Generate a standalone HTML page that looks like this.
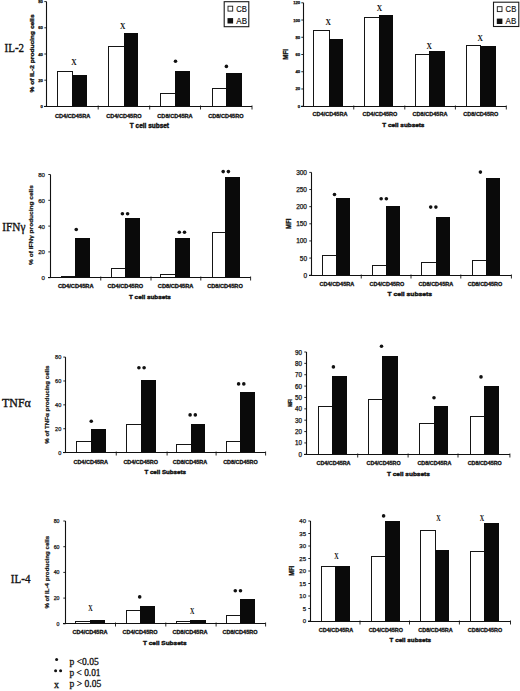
<!DOCTYPE html>
<html><head><meta charset="utf-8"><title>Cytokine production by T cell subsets</title>
<style>
html,body{margin:0;padding:0;background:#fff;}
body{width:520px;height:691px;overflow:hidden;font-family:"Liberation Sans", sans-serif;}
svg{display:block;}
</style></head>
<body>
<svg width="520" height="691" viewBox="0 0 520 691">
<rect x="0" y="0" width="520" height="691" fill="#fff"/>
<rect x="57.5" y="71.5" width="15.0" height="35.0" fill="#fff" stroke="#151515" stroke-width="1"/>
<rect x="72.00" y="75.00" width="15.00" height="31.50" fill="#0a0a0a"/>
<rect x="108.5" y="46.5" width="16.0" height="60.0" fill="#fff" stroke="#151515" stroke-width="1"/>
<rect x="124.00" y="33.00" width="14.00" height="73.50" fill="#0a0a0a"/>
<rect x="160.5" y="93.5" width="15.0" height="13.0" fill="#fff" stroke="#151515" stroke-width="1"/>
<rect x="175.00" y="71.00" width="15.00" height="35.50" fill="#0a0a0a"/>
<rect x="212.5" y="88.5" width="14.0" height="18.0" fill="#fff" stroke="#151515" stroke-width="1"/>
<rect x="226.00" y="73.00" width="16.00" height="33.50" fill="#0a0a0a"/>
<line x1="46.50" y1="1.60" x2="46.50" y2="107.00" stroke="#111" stroke-width="1.1"/>
<line x1="44.00" y1="106.50" x2="252.00" y2="106.50" stroke="#111" stroke-width="1.1"/>
<line x1="44.30" y1="106.40" x2="46.50" y2="106.40" stroke="#111" stroke-width="0.9"/>
<text x="42.90" y="106.40" font-family='"Liberation Sans", sans-serif' font-size="4.2" font-weight="bold" text-anchor="end" dominant-baseline="central" fill="#111" stroke="#111" stroke-width="0.25">0</text>
<line x1="44.30" y1="80.20" x2="46.50" y2="80.20" stroke="#111" stroke-width="0.9"/>
<text x="42.90" y="80.20" font-family='"Liberation Sans", sans-serif' font-size="4.2" font-weight="bold" text-anchor="end" dominant-baseline="central" fill="#111" stroke="#111" stroke-width="0.25">20</text>
<line x1="44.30" y1="54.00" x2="46.50" y2="54.00" stroke="#111" stroke-width="0.9"/>
<text x="42.90" y="54.00" font-family='"Liberation Sans", sans-serif' font-size="4.2" font-weight="bold" text-anchor="end" dominant-baseline="central" fill="#111" stroke="#111" stroke-width="0.25">40</text>
<line x1="44.30" y1="27.80" x2="46.50" y2="27.80" stroke="#111" stroke-width="0.9"/>
<text x="42.90" y="27.80" font-family='"Liberation Sans", sans-serif' font-size="4.2" font-weight="bold" text-anchor="end" dominant-baseline="central" fill="#111" stroke="#111" stroke-width="0.25">60</text>
<line x1="44.30" y1="1.60" x2="46.50" y2="1.60" stroke="#111" stroke-width="0.9"/>
<text x="42.90" y="1.60" font-family='"Liberation Sans", sans-serif' font-size="4.2" font-weight="bold" text-anchor="end" dominant-baseline="central" fill="#111" stroke="#111" stroke-width="0.25">80</text>
<line x1="98.20" y1="105.50" x2="98.20" y2="109.50" stroke="#111" stroke-width="0.9"/>
<line x1="149.70" y1="105.50" x2="149.70" y2="109.50" stroke="#111" stroke-width="0.9"/>
<line x1="200.50" y1="105.50" x2="200.50" y2="109.50" stroke="#111" stroke-width="0.9"/>
<line x1="252.00" y1="105.50" x2="252.00" y2="109.50" stroke="#111" stroke-width="0.9"/>
<text x="72.60" y="115.80" font-family='"Liberation Sans", sans-serif' font-size="5.5" font-weight="bold" text-anchor="middle" dominant-baseline="central" fill="#111" textLength="35.40" lengthAdjust="spacingAndGlyphs" stroke="#111" stroke-width="0.3">CD4/CD45RA</text>
<text x="123.90" y="115.80" font-family='"Liberation Sans", sans-serif' font-size="5.5" font-weight="bold" text-anchor="middle" dominant-baseline="central" fill="#111" textLength="35.40" lengthAdjust="spacingAndGlyphs" stroke="#111" stroke-width="0.3">CD4/CD45RO</text>
<text x="175.00" y="115.80" font-family='"Liberation Sans", sans-serif' font-size="5.5" font-weight="bold" text-anchor="middle" dominant-baseline="central" fill="#111" textLength="35.40" lengthAdjust="spacingAndGlyphs" stroke="#111" stroke-width="0.3">CD8/CD45RA</text>
<text x="225.90" y="115.80" font-family='"Liberation Sans", sans-serif' font-size="5.5" font-weight="bold" text-anchor="middle" dominant-baseline="central" fill="#111" textLength="35.40" lengthAdjust="spacingAndGlyphs" stroke="#111" stroke-width="0.3">CD8/CD45RO</text>
<text x="74.00" y="62.30" font-family='"Liberation Serif", serif' font-size="9" font-weight="bold" text-anchor="middle" dominant-baseline="central" fill="#111" textLength="5.40" lengthAdjust="spacingAndGlyphs">X</text>
<text x="122.70" y="26.00" font-family='"Liberation Serif", serif' font-size="9" font-weight="bold" text-anchor="middle" dominant-baseline="central" fill="#111" textLength="5.40" lengthAdjust="spacingAndGlyphs">X</text>
<circle cx="175.50" cy="61.30" r="1.8" fill="#111"/>
<circle cx="226.40" cy="66.40" r="1.8" fill="#111"/>
<text x="149.40" y="125.80" font-family='"Liberation Sans", sans-serif' font-size="6.5" font-weight="bold" text-anchor="middle" dominant-baseline="central" fill="#111" textLength="39.20" lengthAdjust="spacingAndGlyphs" stroke="#111" stroke-width="0.4">T cell subset</text>
<text x="31.60" y="53.45" font-family='"Liberation Sans", sans-serif' font-size="5.2" font-weight="bold" text-anchor="middle" dominant-baseline="central" fill="#111" textLength="78.10" lengthAdjust="spacingAndGlyphs" transform="rotate(-90 31.60 53.45)" stroke="#111" stroke-width="0.3">% of IL-2 producing cells</text>
<rect x="224.20" y="1.70" width="24.60" height="25.00" fill="#fff" stroke="#1a1a1a" stroke-width="1.1"/>
<rect x="228.00" y="6.20" width="4.70" height="4.90" fill="#fff" stroke="#1a1a1a" stroke-width="0.9"/>
<rect x="227.50" y="18.10" width="5.60" height="5.40" fill="#111"/>
<text x="236.30" y="9.10" font-family='"Liberation Sans", sans-serif' font-size="8.2" font-weight="normal" text-anchor="start" dominant-baseline="central" fill="#111" textLength="10.70" lengthAdjust="spacingAndGlyphs" stroke="#111" stroke-width="0.15">CB</text>
<text x="236.30" y="21.20" font-family='"Liberation Sans", sans-serif' font-size="8.2" font-weight="normal" text-anchor="start" dominant-baseline="central" fill="#111" textLength="10.70" lengthAdjust="spacingAndGlyphs" stroke="#111" stroke-width="0.15">AB</text>
<rect x="313.5" y="30.5" width="16.0" height="76.0" fill="#fff" stroke="#151515" stroke-width="1"/>
<rect x="329.00" y="39.00" width="14.00" height="67.50" fill="#0a0a0a"/>
<rect x="364.5" y="17.5" width="15.0" height="89.0" fill="#fff" stroke="#151515" stroke-width="1"/>
<rect x="379.00" y="15.00" width="14.00" height="91.50" fill="#0a0a0a"/>
<rect x="415.5" y="54.5" width="14.0" height="52.0" fill="#fff" stroke="#151515" stroke-width="1"/>
<rect x="429.00" y="51.00" width="16.00" height="55.50" fill="#0a0a0a"/>
<rect x="466.5" y="45.5" width="14.0" height="61.0" fill="#fff" stroke="#151515" stroke-width="1"/>
<rect x="480.00" y="46.00" width="16.00" height="60.50" fill="#0a0a0a"/>
<line x1="303.50" y1="2.80" x2="303.50" y2="107.00" stroke="#111" stroke-width="1.1"/>
<line x1="301.00" y1="106.50" x2="506.30" y2="106.50" stroke="#111" stroke-width="1.1"/>
<line x1="301.30" y1="106.20" x2="303.50" y2="106.20" stroke="#111" stroke-width="0.9"/>
<text x="300.20" y="106.20" font-family='"Liberation Sans", sans-serif' font-size="4.2" font-weight="bold" text-anchor="end" dominant-baseline="central" fill="#111" stroke="#111" stroke-width="0.25">0</text>
<line x1="301.30" y1="88.97" x2="303.50" y2="88.97" stroke="#111" stroke-width="0.9"/>
<text x="300.20" y="88.97" font-family='"Liberation Sans", sans-serif' font-size="4.2" font-weight="bold" text-anchor="end" dominant-baseline="central" fill="#111" stroke="#111" stroke-width="0.25">20</text>
<line x1="301.30" y1="71.73" x2="303.50" y2="71.73" stroke="#111" stroke-width="0.9"/>
<text x="300.20" y="71.73" font-family='"Liberation Sans", sans-serif' font-size="4.2" font-weight="bold" text-anchor="end" dominant-baseline="central" fill="#111" stroke="#111" stroke-width="0.25">40</text>
<line x1="301.30" y1="54.50" x2="303.50" y2="54.50" stroke="#111" stroke-width="0.9"/>
<text x="300.20" y="54.50" font-family='"Liberation Sans", sans-serif' font-size="4.2" font-weight="bold" text-anchor="end" dominant-baseline="central" fill="#111" stroke="#111" stroke-width="0.25">60</text>
<line x1="301.30" y1="37.27" x2="303.50" y2="37.27" stroke="#111" stroke-width="0.9"/>
<text x="300.20" y="37.27" font-family='"Liberation Sans", sans-serif' font-size="4.2" font-weight="bold" text-anchor="end" dominant-baseline="central" fill="#111" stroke="#111" stroke-width="0.25">80</text>
<line x1="301.30" y1="20.03" x2="303.50" y2="20.03" stroke="#111" stroke-width="0.9"/>
<text x="300.20" y="20.03" font-family='"Liberation Sans", sans-serif' font-size="4.2" font-weight="bold" text-anchor="end" dominant-baseline="central" fill="#111" stroke="#111" stroke-width="0.25">100</text>
<line x1="301.30" y1="2.80" x2="303.50" y2="2.80" stroke="#111" stroke-width="0.9"/>
<text x="300.20" y="2.80" font-family='"Liberation Sans", sans-serif' font-size="4.2" font-weight="bold" text-anchor="end" dominant-baseline="central" fill="#111" stroke="#111" stroke-width="0.25">120</text>
<line x1="353.75" y1="105.50" x2="353.75" y2="109.50" stroke="#111" stroke-width="0.9"/>
<line x1="404.80" y1="105.50" x2="404.80" y2="109.50" stroke="#111" stroke-width="0.9"/>
<line x1="455.40" y1="105.50" x2="455.40" y2="109.50" stroke="#111" stroke-width="0.9"/>
<line x1="506.30" y1="105.50" x2="506.30" y2="109.50" stroke="#111" stroke-width="0.9"/>
<text x="330.00" y="114.20" font-family='"Liberation Sans", sans-serif' font-size="5.5" font-weight="bold" text-anchor="middle" dominant-baseline="central" fill="#111" textLength="35.00" lengthAdjust="spacingAndGlyphs" stroke="#111" stroke-width="0.3">CD4/CD45RA</text>
<text x="379.90" y="114.20" font-family='"Liberation Sans", sans-serif' font-size="5.5" font-weight="bold" text-anchor="middle" dominant-baseline="central" fill="#111" textLength="35.00" lengthAdjust="spacingAndGlyphs" stroke="#111" stroke-width="0.3">CD4/CD45RO</text>
<text x="430.00" y="114.20" font-family='"Liberation Sans", sans-serif' font-size="5.5" font-weight="bold" text-anchor="middle" dominant-baseline="central" fill="#111" textLength="35.00" lengthAdjust="spacingAndGlyphs" stroke="#111" stroke-width="0.3">CD8/CD45RA</text>
<text x="480.80" y="114.20" font-family='"Liberation Sans", sans-serif' font-size="5.5" font-weight="bold" text-anchor="middle" dominant-baseline="central" fill="#111" textLength="35.00" lengthAdjust="spacingAndGlyphs" stroke="#111" stroke-width="0.3">CD8/CD45RO</text>
<text x="328.30" y="22.30" font-family='"Liberation Serif", serif' font-size="9" font-weight="bold" text-anchor="middle" dominant-baseline="central" fill="#111" textLength="5.40" lengthAdjust="spacingAndGlyphs">X</text>
<text x="379.50" y="7.80" font-family='"Liberation Serif", serif' font-size="9" font-weight="bold" text-anchor="middle" dominant-baseline="central" fill="#111" textLength="5.40" lengthAdjust="spacingAndGlyphs">X</text>
<text x="429.30" y="46.10" font-family='"Liberation Serif", serif' font-size="9" font-weight="bold" text-anchor="middle" dominant-baseline="central" fill="#111" textLength="5.40" lengthAdjust="spacingAndGlyphs">X</text>
<text x="480.20" y="38.00" font-family='"Liberation Serif", serif' font-size="9" font-weight="bold" text-anchor="middle" dominant-baseline="central" fill="#111" textLength="5.40" lengthAdjust="spacingAndGlyphs">X</text>
<text x="403.35" y="125.00" font-family='"Liberation Sans", sans-serif' font-size="6.0" font-weight="bold" text-anchor="middle" dominant-baseline="central" fill="#111" textLength="42.10" lengthAdjust="spacingAndGlyphs" stroke="#111" stroke-width="0.4">T cell subsets</text>
<text x="286.00" y="54.30" font-family='"Liberation Sans", sans-serif' font-size="7.5" font-weight="bold" text-anchor="middle" dominant-baseline="central" fill="#111" textLength="10.80" lengthAdjust="spacingAndGlyphs" transform="rotate(-90 286.00 54.30)" stroke="#111" stroke-width="0.35">MFI</text>
<rect x="493.50" y="2.20" width="25.30" height="24.30" fill="#fff" stroke="#1a1a1a" stroke-width="1.1"/>
<rect x="497.30" y="6.70" width="4.70" height="4.90" fill="#fff" stroke="#1a1a1a" stroke-width="0.9"/>
<rect x="496.80" y="18.60" width="5.60" height="5.40" fill="#111"/>
<text x="505.60" y="9.60" font-family='"Liberation Sans", sans-serif' font-size="8.2" font-weight="normal" text-anchor="start" dominant-baseline="central" fill="#111" textLength="10.70" lengthAdjust="spacingAndGlyphs" stroke="#111" stroke-width="0.15">CB</text>
<text x="505.60" y="21.70" font-family='"Liberation Sans", sans-serif' font-size="8.2" font-weight="normal" text-anchor="start" dominant-baseline="central" fill="#111" textLength="10.70" lengthAdjust="spacingAndGlyphs" stroke="#111" stroke-width="0.15">AB</text>
<rect x="61.5" y="276.5" width="14.0" height="1.0" fill="#fff" stroke="#151515" stroke-width="1"/>
<rect x="75.00" y="238.00" width="15.00" height="39.50" fill="#0a0a0a"/>
<rect x="111.5" y="268.5" width="14.0" height="9.0" fill="#fff" stroke="#151515" stroke-width="1"/>
<rect x="125.00" y="218.00" width="15.00" height="59.50" fill="#0a0a0a"/>
<rect x="160.5" y="274.5" width="15.0" height="3.0" fill="#fff" stroke="#151515" stroke-width="1"/>
<rect x="175.00" y="238.00" width="15.00" height="39.50" fill="#0a0a0a"/>
<rect x="212.5" y="232.5" width="13.0" height="45.0" fill="#fff" stroke="#151515" stroke-width="1"/>
<rect x="225.00" y="177.00" width="15.00" height="100.50" fill="#0a0a0a"/>
<line x1="50.50" y1="174.50" x2="50.50" y2="278.00" stroke="#111" stroke-width="1.1"/>
<line x1="48.00" y1="277.50" x2="250.60" y2="277.50" stroke="#111" stroke-width="1.1"/>
<line x1="48.30" y1="277.70" x2="50.50" y2="277.70" stroke="#111" stroke-width="0.9"/>
<text x="45.00" y="277.70" font-family='"Liberation Sans", sans-serif' font-size="6.1" font-weight="normal" text-anchor="end" dominant-baseline="central" fill="#111" stroke="#111" stroke-width="0.25">0</text>
<line x1="48.30" y1="251.90" x2="50.50" y2="251.90" stroke="#111" stroke-width="0.9"/>
<text x="45.00" y="251.90" font-family='"Liberation Sans", sans-serif' font-size="6.1" font-weight="normal" text-anchor="end" dominant-baseline="central" fill="#111" stroke="#111" stroke-width="0.25">20</text>
<line x1="48.30" y1="226.10" x2="50.50" y2="226.10" stroke="#111" stroke-width="0.9"/>
<text x="45.00" y="226.10" font-family='"Liberation Sans", sans-serif' font-size="6.1" font-weight="normal" text-anchor="end" dominant-baseline="central" fill="#111" stroke="#111" stroke-width="0.25">40</text>
<line x1="48.30" y1="200.30" x2="50.50" y2="200.30" stroke="#111" stroke-width="0.9"/>
<text x="45.00" y="200.30" font-family='"Liberation Sans", sans-serif' font-size="6.1" font-weight="normal" text-anchor="end" dominant-baseline="central" fill="#111" stroke="#111" stroke-width="0.25">60</text>
<line x1="48.30" y1="174.50" x2="50.50" y2="174.50" stroke="#111" stroke-width="0.9"/>
<text x="45.00" y="174.50" font-family='"Liberation Sans", sans-serif' font-size="6.1" font-weight="normal" text-anchor="end" dominant-baseline="central" fill="#111" stroke="#111" stroke-width="0.25">80</text>
<line x1="100.75" y1="276.50" x2="100.75" y2="280.50" stroke="#111" stroke-width="0.9"/>
<line x1="151.00" y1="276.50" x2="151.00" y2="280.50" stroke="#111" stroke-width="0.9"/>
<line x1="200.80" y1="276.50" x2="200.80" y2="280.50" stroke="#111" stroke-width="0.9"/>
<line x1="250.60" y1="276.50" x2="250.60" y2="280.50" stroke="#111" stroke-width="0.9"/>
<text x="75.70" y="286.20" font-family='"Liberation Sans", sans-serif' font-size="5.2" font-weight="bold" text-anchor="middle" dominant-baseline="central" fill="#111" textLength="35.60" lengthAdjust="spacingAndGlyphs" stroke="#111" stroke-width="0.3">CD4/CD45RA</text>
<text x="125.30" y="286.20" font-family='"Liberation Sans", sans-serif' font-size="5.2" font-weight="bold" text-anchor="middle" dominant-baseline="central" fill="#111" textLength="35.60" lengthAdjust="spacingAndGlyphs" stroke="#111" stroke-width="0.3">CD4/CD45RO</text>
<text x="175.60" y="286.20" font-family='"Liberation Sans", sans-serif' font-size="5.2" font-weight="bold" text-anchor="middle" dominant-baseline="central" fill="#111" textLength="35.60" lengthAdjust="spacingAndGlyphs" stroke="#111" stroke-width="0.3">CD8/CD45RA</text>
<text x="225.00" y="286.20" font-family='"Liberation Sans", sans-serif' font-size="5.2" font-weight="bold" text-anchor="middle" dominant-baseline="central" fill="#111" textLength="35.60" lengthAdjust="spacingAndGlyphs" stroke="#111" stroke-width="0.3">CD8/CD45RO</text>
<circle cx="76.25" cy="229.50" r="1.8" fill="#111"/>
<circle cx="122.40" cy="213.75" r="1.8" fill="#111"/>
<circle cx="127.60" cy="213.75" r="1.8" fill="#111"/>
<circle cx="179.30" cy="232.20" r="1.8" fill="#111"/>
<circle cx="184.50" cy="232.20" r="1.8" fill="#111"/>
<circle cx="223.20" cy="171.60" r="1.8" fill="#111"/>
<circle cx="228.40" cy="171.60" r="1.8" fill="#111"/>
<text x="149.90" y="296.80" font-family='"Liberation Sans", sans-serif' font-size="6.0" font-weight="bold" text-anchor="middle" dominant-baseline="central" fill="#111" textLength="41.80" lengthAdjust="spacingAndGlyphs" stroke="#111" stroke-width="0.4">T cell subsets</text>
<text x="31.20" y="225.05" font-family='"Liberation Sans", sans-serif' font-size="5.0" font-weight="bold" text-anchor="middle" dominant-baseline="central" fill="#111" textLength="79.70" lengthAdjust="spacingAndGlyphs" transform="rotate(-90 31.20 225.05)" stroke="#111" stroke-width="0.2">% of IFN&#947; producing cells</text>
<rect x="322.5" y="255.5" width="14.0" height="20.0" fill="#fff" stroke="#151515" stroke-width="1"/>
<rect x="336.00" y="198.00" width="14.00" height="77.50" fill="#0a0a0a"/>
<rect x="372.5" y="265.5" width="14.0" height="10.0" fill="#fff" stroke="#151515" stroke-width="1"/>
<rect x="386.00" y="206.00" width="14.00" height="69.50" fill="#0a0a0a"/>
<rect x="421.5" y="262.5" width="15.0" height="13.0" fill="#fff" stroke="#151515" stroke-width="1"/>
<rect x="436.00" y="217.00" width="14.00" height="58.50" fill="#0a0a0a"/>
<rect x="472.5" y="260.5" width="14.0" height="15.0" fill="#fff" stroke="#151515" stroke-width="1"/>
<rect x="486.00" y="178.00" width="14.00" height="97.50" fill="#0a0a0a"/>
<line x1="311.50" y1="172.40" x2="311.50" y2="276.00" stroke="#111" stroke-width="1.1"/>
<line x1="309.00" y1="275.50" x2="511.40" y2="275.50" stroke="#111" stroke-width="1.1"/>
<line x1="309.30" y1="275.20" x2="311.50" y2="275.20" stroke="#111" stroke-width="0.9"/>
<text x="307.00" y="275.20" font-family='"Liberation Sans", sans-serif' font-size="6.5" font-weight="normal" text-anchor="end" dominant-baseline="central" fill="#111" stroke="#111" stroke-width="0.25">0</text>
<line x1="309.30" y1="258.07" x2="311.50" y2="258.07" stroke="#111" stroke-width="0.9"/>
<text x="307.00" y="258.07" font-family='"Liberation Sans", sans-serif' font-size="6.5" font-weight="normal" text-anchor="end" dominant-baseline="central" fill="#111" stroke="#111" stroke-width="0.25">50</text>
<line x1="309.30" y1="240.93" x2="311.50" y2="240.93" stroke="#111" stroke-width="0.9"/>
<text x="307.00" y="240.93" font-family='"Liberation Sans", sans-serif' font-size="6.5" font-weight="normal" text-anchor="end" dominant-baseline="central" fill="#111" stroke="#111" stroke-width="0.25">100</text>
<line x1="309.30" y1="223.80" x2="311.50" y2="223.80" stroke="#111" stroke-width="0.9"/>
<text x="307.00" y="223.80" font-family='"Liberation Sans", sans-serif' font-size="6.5" font-weight="normal" text-anchor="end" dominant-baseline="central" fill="#111" stroke="#111" stroke-width="0.25">150</text>
<line x1="309.30" y1="206.67" x2="311.50" y2="206.67" stroke="#111" stroke-width="0.9"/>
<text x="307.00" y="206.67" font-family='"Liberation Sans", sans-serif' font-size="6.5" font-weight="normal" text-anchor="end" dominant-baseline="central" fill="#111" stroke="#111" stroke-width="0.25">200</text>
<line x1="309.30" y1="189.53" x2="311.50" y2="189.53" stroke="#111" stroke-width="0.9"/>
<text x="307.00" y="189.53" font-family='"Liberation Sans", sans-serif' font-size="6.5" font-weight="normal" text-anchor="end" dominant-baseline="central" fill="#111" stroke="#111" stroke-width="0.25">250</text>
<line x1="309.30" y1="172.40" x2="311.50" y2="172.40" stroke="#111" stroke-width="0.9"/>
<text x="307.00" y="172.40" font-family='"Liberation Sans", sans-serif' font-size="6.5" font-weight="normal" text-anchor="end" dominant-baseline="central" fill="#111" stroke="#111" stroke-width="0.25">300</text>
<line x1="361.25" y1="274.50" x2="361.25" y2="278.50" stroke="#111" stroke-width="0.9"/>
<line x1="411.00" y1="274.50" x2="411.00" y2="278.50" stroke="#111" stroke-width="0.9"/>
<line x1="460.80" y1="274.50" x2="460.80" y2="278.50" stroke="#111" stroke-width="0.9"/>
<line x1="511.40" y1="274.50" x2="511.40" y2="278.50" stroke="#111" stroke-width="0.9"/>
<text x="336.90" y="284.40" font-family='"Liberation Sans", sans-serif' font-size="5.2" font-weight="bold" text-anchor="middle" dominant-baseline="central" fill="#111" textLength="34.60" lengthAdjust="spacingAndGlyphs" stroke="#111" stroke-width="0.3">CD4/CD45RA</text>
<text x="386.90" y="284.40" font-family='"Liberation Sans", sans-serif' font-size="5.2" font-weight="bold" text-anchor="middle" dominant-baseline="central" fill="#111" textLength="34.60" lengthAdjust="spacingAndGlyphs" stroke="#111" stroke-width="0.3">CD4/CD45RO</text>
<text x="435.90" y="284.40" font-family='"Liberation Sans", sans-serif' font-size="5.2" font-weight="bold" text-anchor="middle" dominant-baseline="central" fill="#111" textLength="34.60" lengthAdjust="spacingAndGlyphs" stroke="#111" stroke-width="0.3">CD8/CD45RA</text>
<text x="485.00" y="284.40" font-family='"Liberation Sans", sans-serif' font-size="5.2" font-weight="bold" text-anchor="middle" dominant-baseline="central" fill="#111" textLength="34.60" lengthAdjust="spacingAndGlyphs" stroke="#111" stroke-width="0.3">CD8/CD45RO</text>
<circle cx="334.50" cy="194.50" r="1.8" fill="#111"/>
<circle cx="381.15" cy="198.75" r="1.8" fill="#111"/>
<circle cx="386.35" cy="198.75" r="1.8" fill="#111"/>
<circle cx="430.70" cy="207.10" r="1.8" fill="#111"/>
<circle cx="435.90" cy="207.10" r="1.8" fill="#111"/>
<circle cx="480.40" cy="172.10" r="1.8" fill="#111"/>
<text x="409.75" y="294.00" font-family='"Liberation Sans", sans-serif' font-size="6.0" font-weight="bold" text-anchor="middle" dominant-baseline="central" fill="#111" textLength="44.50" lengthAdjust="spacingAndGlyphs" stroke="#111" stroke-width="0.4">T cell subsets</text>
<text x="288.60" y="223.80" font-family='"Liberation Sans", sans-serif' font-size="6.8" font-weight="bold" text-anchor="middle" dominant-baseline="central" fill="#111" textLength="10.20" lengthAdjust="spacingAndGlyphs" transform="rotate(-90 288.60 223.80)" stroke="#111" stroke-width="0.35">MFI</text>
<rect x="76.5" y="441.5" width="15.0" height="11.0" fill="#fff" stroke="#151515" stroke-width="1"/>
<rect x="91.00" y="429.00" width="15.00" height="23.50" fill="#0a0a0a"/>
<rect x="126.5" y="424.5" width="15.0" height="28.0" fill="#fff" stroke="#151515" stroke-width="1"/>
<rect x="141.00" y="380.00" width="15.00" height="72.50" fill="#0a0a0a"/>
<rect x="176.5" y="444.5" width="15.0" height="8.0" fill="#fff" stroke="#151515" stroke-width="1"/>
<rect x="191.00" y="424.00" width="14.00" height="28.50" fill="#0a0a0a"/>
<rect x="226.5" y="441.5" width="14.0" height="11.0" fill="#fff" stroke="#151515" stroke-width="1"/>
<rect x="240.00" y="392.00" width="15.00" height="60.50" fill="#0a0a0a"/>
<line x1="65.50" y1="357.10" x2="65.50" y2="453.00" stroke="#111" stroke-width="1.1"/>
<line x1="63.00" y1="452.50" x2="265.60" y2="452.50" stroke="#111" stroke-width="1.1"/>
<line x1="63.30" y1="452.60" x2="65.50" y2="452.60" stroke="#111" stroke-width="0.9"/>
<text x="61.30" y="452.60" font-family='"Liberation Sans", sans-serif' font-size="5.6" font-weight="normal" text-anchor="end" dominant-baseline="central" fill="#111" stroke="#111" stroke-width="0.25">0</text>
<line x1="63.30" y1="428.73" x2="65.50" y2="428.73" stroke="#111" stroke-width="0.9"/>
<text x="61.30" y="428.73" font-family='"Liberation Sans", sans-serif' font-size="5.6" font-weight="normal" text-anchor="end" dominant-baseline="central" fill="#111" stroke="#111" stroke-width="0.25">20</text>
<line x1="63.30" y1="404.85" x2="65.50" y2="404.85" stroke="#111" stroke-width="0.9"/>
<text x="61.30" y="404.85" font-family='"Liberation Sans", sans-serif' font-size="5.6" font-weight="normal" text-anchor="end" dominant-baseline="central" fill="#111" stroke="#111" stroke-width="0.25">40</text>
<line x1="63.30" y1="380.98" x2="65.50" y2="380.98" stroke="#111" stroke-width="0.9"/>
<text x="61.30" y="380.98" font-family='"Liberation Sans", sans-serif' font-size="5.6" font-weight="normal" text-anchor="end" dominant-baseline="central" fill="#111" stroke="#111" stroke-width="0.25">60</text>
<line x1="63.30" y1="357.10" x2="65.50" y2="357.10" stroke="#111" stroke-width="0.9"/>
<text x="61.30" y="357.10" font-family='"Liberation Sans", sans-serif' font-size="5.6" font-weight="normal" text-anchor="end" dominant-baseline="central" fill="#111" stroke="#111" stroke-width="0.25">80</text>
<line x1="116.25" y1="451.50" x2="116.25" y2="455.50" stroke="#111" stroke-width="0.9"/>
<line x1="167.10" y1="451.50" x2="167.10" y2="455.50" stroke="#111" stroke-width="0.9"/>
<line x1="216.10" y1="451.50" x2="216.10" y2="455.50" stroke="#111" stroke-width="0.9"/>
<line x1="265.60" y1="451.50" x2="265.60" y2="455.50" stroke="#111" stroke-width="0.9"/>
<text x="90.70" y="461.90" font-family='"Liberation Sans", sans-serif' font-size="5.2" font-weight="bold" text-anchor="middle" dominant-baseline="central" fill="#111" textLength="34.50" lengthAdjust="spacingAndGlyphs" stroke="#111" stroke-width="0.3">CD4/CD45RA</text>
<text x="140.70" y="461.90" font-family='"Liberation Sans", sans-serif' font-size="5.2" font-weight="bold" text-anchor="middle" dominant-baseline="central" fill="#111" textLength="34.50" lengthAdjust="spacingAndGlyphs" stroke="#111" stroke-width="0.3">CD4/CD45RO</text>
<text x="190.00" y="461.90" font-family='"Liberation Sans", sans-serif' font-size="5.2" font-weight="bold" text-anchor="middle" dominant-baseline="central" fill="#111" textLength="34.50" lengthAdjust="spacingAndGlyphs" stroke="#111" stroke-width="0.3">CD8/CD45RA</text>
<text x="240.40" y="461.90" font-family='"Liberation Sans", sans-serif' font-size="5.2" font-weight="bold" text-anchor="middle" dominant-baseline="central" fill="#111" textLength="34.50" lengthAdjust="spacingAndGlyphs" stroke="#111" stroke-width="0.3">CD8/CD45RO</text>
<circle cx="91.25" cy="421.25" r="1.8" fill="#111"/>
<circle cx="138.90" cy="367.70" r="1.8" fill="#111"/>
<circle cx="144.10" cy="367.70" r="1.8" fill="#111"/>
<circle cx="190.10" cy="414.90" r="1.8" fill="#111"/>
<circle cx="195.30" cy="414.90" r="1.8" fill="#111"/>
<circle cx="238.60" cy="383.90" r="1.8" fill="#111"/>
<circle cx="243.80" cy="383.90" r="1.8" fill="#111"/>
<text x="165.20" y="472.00" font-family='"Liberation Sans", sans-serif' font-size="6.0" font-weight="bold" text-anchor="middle" dominant-baseline="central" fill="#111" textLength="41.60" lengthAdjust="spacingAndGlyphs" stroke="#111" stroke-width="0.4">T cell Subsets</text>
<text x="46.80" y="404.65" font-family='"Liberation Sans", sans-serif' font-size="5.0" font-weight="bold" text-anchor="middle" dominant-baseline="central" fill="#111" textLength="78.30" lengthAdjust="spacingAndGlyphs" transform="rotate(-90 46.80 404.65)" stroke="#111" stroke-width="0.2">% of TNF&#945; producing cells</text>
<rect x="318.5" y="406.5" width="14.0" height="48.0" fill="#fff" stroke="#151515" stroke-width="1"/>
<rect x="332.00" y="376.00" width="15.00" height="78.50" fill="#0a0a0a"/>
<rect x="368.5" y="399.5" width="14.0" height="55.0" fill="#fff" stroke="#151515" stroke-width="1"/>
<rect x="382.00" y="356.00" width="16.00" height="98.50" fill="#0a0a0a"/>
<rect x="419.5" y="423.5" width="15.0" height="31.0" fill="#fff" stroke="#151515" stroke-width="1"/>
<rect x="434.00" y="406.00" width="14.00" height="48.50" fill="#0a0a0a"/>
<rect x="470.5" y="416.5" width="14.0" height="38.0" fill="#fff" stroke="#151515" stroke-width="1"/>
<rect x="484.00" y="386.00" width="15.00" height="68.50" fill="#0a0a0a"/>
<line x1="306.50" y1="352.00" x2="306.50" y2="455.00" stroke="#111" stroke-width="1.1"/>
<line x1="304.00" y1="454.50" x2="509.90" y2="454.50" stroke="#111" stroke-width="1.1"/>
<line x1="304.30" y1="454.30" x2="306.50" y2="454.30" stroke="#111" stroke-width="0.9"/>
<text x="302.00" y="454.30" font-family='"Liberation Sans", sans-serif' font-size="6.3" font-weight="normal" text-anchor="end" dominant-baseline="central" fill="#111" stroke="#111" stroke-width="0.25">0</text>
<line x1="304.30" y1="442.93" x2="306.50" y2="442.93" stroke="#111" stroke-width="0.9"/>
<text x="302.00" y="442.93" font-family='"Liberation Sans", sans-serif' font-size="6.3" font-weight="normal" text-anchor="end" dominant-baseline="central" fill="#111" stroke="#111" stroke-width="0.25">10</text>
<line x1="304.30" y1="431.57" x2="306.50" y2="431.57" stroke="#111" stroke-width="0.9"/>
<text x="302.00" y="431.57" font-family='"Liberation Sans", sans-serif' font-size="6.3" font-weight="normal" text-anchor="end" dominant-baseline="central" fill="#111" stroke="#111" stroke-width="0.25">20</text>
<line x1="304.30" y1="420.20" x2="306.50" y2="420.20" stroke="#111" stroke-width="0.9"/>
<text x="302.00" y="420.20" font-family='"Liberation Sans", sans-serif' font-size="6.3" font-weight="normal" text-anchor="end" dominant-baseline="central" fill="#111" stroke="#111" stroke-width="0.25">30</text>
<line x1="304.30" y1="408.83" x2="306.50" y2="408.83" stroke="#111" stroke-width="0.9"/>
<text x="302.00" y="408.83" font-family='"Liberation Sans", sans-serif' font-size="6.3" font-weight="normal" text-anchor="end" dominant-baseline="central" fill="#111" stroke="#111" stroke-width="0.25">40</text>
<line x1="304.30" y1="397.47" x2="306.50" y2="397.47" stroke="#111" stroke-width="0.9"/>
<text x="302.00" y="397.47" font-family='"Liberation Sans", sans-serif' font-size="6.3" font-weight="normal" text-anchor="end" dominant-baseline="central" fill="#111" stroke="#111" stroke-width="0.25">50</text>
<line x1="304.30" y1="386.10" x2="306.50" y2="386.10" stroke="#111" stroke-width="0.9"/>
<text x="302.00" y="386.10" font-family='"Liberation Sans", sans-serif' font-size="6.3" font-weight="normal" text-anchor="end" dominant-baseline="central" fill="#111" stroke="#111" stroke-width="0.25">60</text>
<line x1="304.30" y1="374.73" x2="306.50" y2="374.73" stroke="#111" stroke-width="0.9"/>
<text x="302.00" y="374.73" font-family='"Liberation Sans", sans-serif' font-size="6.3" font-weight="normal" text-anchor="end" dominant-baseline="central" fill="#111" stroke="#111" stroke-width="0.25">70</text>
<line x1="304.30" y1="363.37" x2="306.50" y2="363.37" stroke="#111" stroke-width="0.9"/>
<text x="302.00" y="363.37" font-family='"Liberation Sans", sans-serif' font-size="6.3" font-weight="normal" text-anchor="end" dominant-baseline="central" fill="#111" stroke="#111" stroke-width="0.25">80</text>
<line x1="304.30" y1="352.00" x2="306.50" y2="352.00" stroke="#111" stroke-width="0.9"/>
<text x="302.00" y="352.00" font-family='"Liberation Sans", sans-serif' font-size="6.3" font-weight="normal" text-anchor="end" dominant-baseline="central" fill="#111" stroke="#111" stroke-width="0.25">90</text>
<line x1="357.70" y1="453.50" x2="357.70" y2="457.50" stroke="#111" stroke-width="0.9"/>
<line x1="408.10" y1="453.50" x2="408.10" y2="457.50" stroke="#111" stroke-width="0.9"/>
<line x1="458.00" y1="453.50" x2="458.00" y2="457.50" stroke="#111" stroke-width="0.9"/>
<line x1="509.90" y1="453.50" x2="509.90" y2="457.50" stroke="#111" stroke-width="0.9"/>
<text x="333.50" y="463.00" font-family='"Liberation Sans", sans-serif' font-size="5.2" font-weight="bold" text-anchor="middle" dominant-baseline="central" fill="#111" textLength="34.00" lengthAdjust="spacingAndGlyphs" stroke="#111" stroke-width="0.3">CD4/CD45RA</text>
<text x="383.60" y="463.00" font-family='"Liberation Sans", sans-serif' font-size="5.2" font-weight="bold" text-anchor="middle" dominant-baseline="central" fill="#111" textLength="34.00" lengthAdjust="spacingAndGlyphs" stroke="#111" stroke-width="0.3">CD4/CD45RO</text>
<text x="434.40" y="463.00" font-family='"Liberation Sans", sans-serif' font-size="5.2" font-weight="bold" text-anchor="middle" dominant-baseline="central" fill="#111" textLength="34.00" lengthAdjust="spacingAndGlyphs" stroke="#111" stroke-width="0.3">CD8/CD45RA</text>
<text x="484.70" y="463.00" font-family='"Liberation Sans", sans-serif' font-size="5.2" font-weight="bold" text-anchor="middle" dominant-baseline="central" fill="#111" textLength="34.00" lengthAdjust="spacingAndGlyphs" stroke="#111" stroke-width="0.3">CD8/CD45RO</text>
<circle cx="333.40" cy="366.90" r="1.8" fill="#111"/>
<circle cx="381.50" cy="346.30" r="1.8" fill="#111"/>
<circle cx="434.00" cy="397.70" r="1.8" fill="#111"/>
<circle cx="481.00" cy="376.90" r="1.8" fill="#111"/>
<text x="408.40" y="473.80" font-family='"Liberation Sans", sans-serif' font-size="6.0" font-weight="bold" text-anchor="middle" dominant-baseline="central" fill="#111" textLength="42.80" lengthAdjust="spacingAndGlyphs" stroke="#111" stroke-width="0.4">T cell subsets</text>
<text x="290.00" y="403.00" font-family='"Liberation Sans", sans-serif' font-size="5.0" font-weight="bold" text-anchor="middle" dominant-baseline="central" fill="#111" textLength="7.40" lengthAdjust="spacingAndGlyphs" transform="rotate(-90 290.00 403.00)" stroke="#111" stroke-width="0.35">MFI</text>
<rect x="75.5" y="621.5" width="15.0" height="2.0" fill="#fff" stroke="#151515" stroke-width="1"/>
<rect x="90.00" y="620.00" width="15.00" height="3.50" fill="#0a0a0a"/>
<rect x="126.5" y="610.5" width="14.0" height="13.0" fill="#fff" stroke="#151515" stroke-width="1"/>
<rect x="140.00" y="606.00" width="15.00" height="17.50" fill="#0a0a0a"/>
<rect x="176.5" y="621.5" width="14.0" height="2.0" fill="#fff" stroke="#151515" stroke-width="1"/>
<rect x="190.00" y="620.00" width="16.00" height="3.50" fill="#0a0a0a"/>
<rect x="226.5" y="615.5" width="14.0" height="8.0" fill="#fff" stroke="#151515" stroke-width="1"/>
<rect x="240.00" y="599.00" width="15.00" height="24.50" fill="#0a0a0a"/>
<line x1="65.50" y1="521.00" x2="65.50" y2="624.00" stroke="#111" stroke-width="1.1"/>
<line x1="63.00" y1="623.50" x2="265.60" y2="623.50" stroke="#111" stroke-width="1.1"/>
<line x1="63.30" y1="623.80" x2="65.50" y2="623.80" stroke="#111" stroke-width="0.9"/>
<text x="59.50" y="623.80" font-family='"Liberation Sans", sans-serif' font-size="5.2" font-weight="normal" text-anchor="end" dominant-baseline="central" fill="#111" stroke="#111" stroke-width="0.25">0</text>
<line x1="63.30" y1="598.10" x2="65.50" y2="598.10" stroke="#111" stroke-width="0.9"/>
<text x="59.50" y="598.10" font-family='"Liberation Sans", sans-serif' font-size="5.2" font-weight="normal" text-anchor="end" dominant-baseline="central" fill="#111" stroke="#111" stroke-width="0.25">20</text>
<line x1="63.30" y1="572.40" x2="65.50" y2="572.40" stroke="#111" stroke-width="0.9"/>
<text x="59.50" y="572.40" font-family='"Liberation Sans", sans-serif' font-size="5.2" font-weight="normal" text-anchor="end" dominant-baseline="central" fill="#111" stroke="#111" stroke-width="0.25">40</text>
<line x1="63.30" y1="546.70" x2="65.50" y2="546.70" stroke="#111" stroke-width="0.9"/>
<text x="59.50" y="546.70" font-family='"Liberation Sans", sans-serif' font-size="5.2" font-weight="normal" text-anchor="end" dominant-baseline="central" fill="#111" stroke="#111" stroke-width="0.25">60</text>
<line x1="63.30" y1="521.00" x2="65.50" y2="521.00" stroke="#111" stroke-width="0.9"/>
<text x="59.50" y="521.00" font-family='"Liberation Sans", sans-serif' font-size="5.2" font-weight="normal" text-anchor="end" dominant-baseline="central" fill="#111" stroke="#111" stroke-width="0.25">80</text>
<line x1="115.50" y1="622.50" x2="115.50" y2="626.50" stroke="#111" stroke-width="0.9"/>
<line x1="165.80" y1="622.50" x2="165.80" y2="626.50" stroke="#111" stroke-width="0.9"/>
<line x1="216.10" y1="622.50" x2="216.10" y2="626.50" stroke="#111" stroke-width="0.9"/>
<line x1="265.60" y1="622.50" x2="265.60" y2="626.50" stroke="#111" stroke-width="0.9"/>
<text x="90.00" y="632.30" font-family='"Liberation Sans", sans-serif' font-size="5.2" font-weight="bold" text-anchor="middle" dominant-baseline="central" fill="#111" textLength="35.00" lengthAdjust="spacingAndGlyphs" stroke="#111" stroke-width="0.3">CD4/CD45RA</text>
<text x="140.00" y="632.30" font-family='"Liberation Sans", sans-serif' font-size="5.2" font-weight="bold" text-anchor="middle" dominant-baseline="central" fill="#111" textLength="35.00" lengthAdjust="spacingAndGlyphs" stroke="#111" stroke-width="0.3">CD4/CD45RO</text>
<text x="190.00" y="632.30" font-family='"Liberation Sans", sans-serif' font-size="5.2" font-weight="bold" text-anchor="middle" dominant-baseline="central" fill="#111" textLength="35.00" lengthAdjust="spacingAndGlyphs" stroke="#111" stroke-width="0.3">CD8/CD45RA</text>
<text x="240.00" y="632.30" font-family='"Liberation Sans", sans-serif' font-size="5.2" font-weight="bold" text-anchor="middle" dominant-baseline="central" fill="#111" textLength="35.00" lengthAdjust="spacingAndGlyphs" stroke="#111" stroke-width="0.3">CD8/CD45RO</text>
<text x="90.50" y="608.20" font-family='"Liberation Serif", serif' font-size="8" font-weight="bold" text-anchor="middle" dominant-baseline="central" fill="#111" textLength="4.40" lengthAdjust="spacingAndGlyphs">X</text>
<circle cx="139.70" cy="596.90" r="1.8" fill="#111"/>
<text x="192.20" y="611.60" font-family='"Liberation Serif", serif' font-size="8" font-weight="bold" text-anchor="middle" dominant-baseline="central" fill="#111" textLength="4.40" lengthAdjust="spacingAndGlyphs">X</text>
<circle cx="235.30" cy="590.70" r="1.8" fill="#111"/>
<circle cx="240.50" cy="590.70" r="1.8" fill="#111"/>
<text x="164.75" y="642.60" font-family='"Liberation Sans", sans-serif' font-size="6.0" font-weight="bold" text-anchor="middle" dominant-baseline="central" fill="#111" textLength="43.50" lengthAdjust="spacingAndGlyphs" stroke="#111" stroke-width="0.4">T cell Subsets</text>
<text x="46.80" y="572.20" font-family='"Liberation Sans", sans-serif' font-size="5.0" font-weight="bold" text-anchor="middle" dominant-baseline="central" fill="#111" textLength="72.80" lengthAdjust="spacingAndGlyphs" transform="rotate(-90 46.80 572.20)" stroke="#111" stroke-width="0.2">% of IL-4 producing cells</text>
<rect x="321.5" y="566.5" width="14.0" height="55.0" fill="#fff" stroke="#151515" stroke-width="1"/>
<rect x="335.00" y="566.00" width="15.00" height="55.50" fill="#0a0a0a"/>
<rect x="371.5" y="556.5" width="14.0" height="65.0" fill="#fff" stroke="#151515" stroke-width="1"/>
<rect x="385.00" y="521.00" width="15.00" height="100.50" fill="#0a0a0a"/>
<rect x="420.5" y="530.5" width="15.0" height="91.0" fill="#fff" stroke="#151515" stroke-width="1"/>
<rect x="435.00" y="550.00" width="14.00" height="71.50" fill="#0a0a0a"/>
<rect x="470.5" y="551.5" width="14.0" height="70.0" fill="#fff" stroke="#151515" stroke-width="1"/>
<rect x="484.00" y="523.00" width="15.00" height="98.50" fill="#0a0a0a"/>
<line x1="310.50" y1="521.00" x2="310.50" y2="622.00" stroke="#111" stroke-width="1.1"/>
<line x1="308.00" y1="621.50" x2="510.50" y2="621.50" stroke="#111" stroke-width="1.1"/>
<line x1="308.30" y1="621.00" x2="310.50" y2="621.00" stroke="#111" stroke-width="0.9"/>
<text x="306.00" y="621.00" font-family='"Liberation Sans", sans-serif' font-size="6.0" font-weight="normal" text-anchor="end" dominant-baseline="central" fill="#111" stroke="#111" stroke-width="0.25">0</text>
<line x1="308.30" y1="608.50" x2="310.50" y2="608.50" stroke="#111" stroke-width="0.9"/>
<text x="306.00" y="608.50" font-family='"Liberation Sans", sans-serif' font-size="6.0" font-weight="normal" text-anchor="end" dominant-baseline="central" fill="#111" stroke="#111" stroke-width="0.25">5</text>
<line x1="308.30" y1="596.00" x2="310.50" y2="596.00" stroke="#111" stroke-width="0.9"/>
<text x="306.00" y="596.00" font-family='"Liberation Sans", sans-serif' font-size="6.0" font-weight="normal" text-anchor="end" dominant-baseline="central" fill="#111" stroke="#111" stroke-width="0.25">10</text>
<line x1="308.30" y1="583.50" x2="310.50" y2="583.50" stroke="#111" stroke-width="0.9"/>
<text x="306.00" y="583.50" font-family='"Liberation Sans", sans-serif' font-size="6.0" font-weight="normal" text-anchor="end" dominant-baseline="central" fill="#111" stroke="#111" stroke-width="0.25">15</text>
<line x1="308.30" y1="571.00" x2="310.50" y2="571.00" stroke="#111" stroke-width="0.9"/>
<text x="306.00" y="571.00" font-family='"Liberation Sans", sans-serif' font-size="6.0" font-weight="normal" text-anchor="end" dominant-baseline="central" fill="#111" stroke="#111" stroke-width="0.25">20</text>
<line x1="308.30" y1="558.50" x2="310.50" y2="558.50" stroke="#111" stroke-width="0.9"/>
<text x="306.00" y="558.50" font-family='"Liberation Sans", sans-serif' font-size="6.0" font-weight="normal" text-anchor="end" dominant-baseline="central" fill="#111" stroke="#111" stroke-width="0.25">25</text>
<line x1="308.30" y1="546.00" x2="310.50" y2="546.00" stroke="#111" stroke-width="0.9"/>
<text x="306.00" y="546.00" font-family='"Liberation Sans", sans-serif' font-size="6.0" font-weight="normal" text-anchor="end" dominant-baseline="central" fill="#111" stroke="#111" stroke-width="0.25">30</text>
<line x1="308.30" y1="533.50" x2="310.50" y2="533.50" stroke="#111" stroke-width="0.9"/>
<text x="306.00" y="533.50" font-family='"Liberation Sans", sans-serif' font-size="6.0" font-weight="normal" text-anchor="end" dominant-baseline="central" fill="#111" stroke="#111" stroke-width="0.25">35</text>
<line x1="308.30" y1="521.00" x2="310.50" y2="521.00" stroke="#111" stroke-width="0.9"/>
<text x="306.00" y="521.00" font-family='"Liberation Sans", sans-serif' font-size="6.0" font-weight="normal" text-anchor="end" dominant-baseline="central" fill="#111" stroke="#111" stroke-width="0.25">40</text>
<line x1="360.00" y1="620.50" x2="360.00" y2="624.50" stroke="#111" stroke-width="0.9"/>
<line x1="409.50" y1="620.50" x2="409.50" y2="624.50" stroke="#111" stroke-width="0.9"/>
<line x1="459.40" y1="620.50" x2="459.40" y2="624.50" stroke="#111" stroke-width="0.9"/>
<line x1="510.50" y1="620.50" x2="510.50" y2="624.50" stroke="#111" stroke-width="0.9"/>
<text x="336.00" y="630.00" font-family='"Liberation Sans", sans-serif' font-size="5.2" font-weight="bold" text-anchor="middle" dominant-baseline="central" fill="#111" textLength="34.30" lengthAdjust="spacingAndGlyphs" stroke="#111" stroke-width="0.3">CD4/CD45RA</text>
<text x="385.80" y="630.00" font-family='"Liberation Sans", sans-serif' font-size="5.2" font-weight="bold" text-anchor="middle" dominant-baseline="central" fill="#111" textLength="34.30" lengthAdjust="spacingAndGlyphs" stroke="#111" stroke-width="0.3">CD4/CD45RO</text>
<text x="435.50" y="630.00" font-family='"Liberation Sans", sans-serif' font-size="5.2" font-weight="bold" text-anchor="middle" dominant-baseline="central" fill="#111" textLength="34.30" lengthAdjust="spacingAndGlyphs" stroke="#111" stroke-width="0.3">CD8/CD45RA</text>
<text x="485.00" y="630.00" font-family='"Liberation Sans", sans-serif' font-size="5.2" font-weight="bold" text-anchor="middle" dominant-baseline="central" fill="#111" textLength="34.30" lengthAdjust="spacingAndGlyphs" stroke="#111" stroke-width="0.3">CD8/CD45RO</text>
<text x="336.40" y="556.40" font-family='"Liberation Serif", serif' font-size="8" font-weight="bold" text-anchor="middle" dominant-baseline="central" fill="#111" textLength="4.40" lengthAdjust="spacingAndGlyphs">X</text>
<circle cx="383.60" cy="515.90" r="1.8" fill="#111"/>
<text x="438.40" y="518.60" font-family='"Liberation Serif", serif' font-size="8" font-weight="bold" text-anchor="middle" dominant-baseline="central" fill="#111" textLength="4.40" lengthAdjust="spacingAndGlyphs">X</text>
<text x="481.90" y="518.60" font-family='"Liberation Serif", serif' font-size="8" font-weight="bold" text-anchor="middle" dominant-baseline="central" fill="#111" textLength="4.40" lengthAdjust="spacingAndGlyphs">X</text>
<text x="410.30" y="640.00" font-family='"Liberation Sans", sans-serif' font-size="6.0" font-weight="bold" text-anchor="middle" dominant-baseline="central" fill="#111" textLength="41.40" lengthAdjust="spacingAndGlyphs" stroke="#111" stroke-width="0.4">T cell subsets</text>
<text x="291.30" y="570.80" font-family='"Liberation Sans", sans-serif' font-size="6.5" font-weight="bold" text-anchor="middle" dominant-baseline="central" fill="#111" textLength="10.00" lengthAdjust="spacingAndGlyphs" transform="rotate(-90 291.30 570.80)" stroke="#111" stroke-width="0.35">MFI</text>
<text x="14.35" y="48.30" font-family='"Liberation Serif", serif' font-size="12" font-weight="normal" text-anchor="middle" dominant-baseline="central" fill="#111" textLength="19.50" lengthAdjust="spacingAndGlyphs" stroke="#111" stroke-width="0.35">IL-2</text>
<text x="13.85" y="227.10" font-family='"Liberation Serif", serif' font-size="12" font-weight="normal" text-anchor="middle" dominant-baseline="central" fill="#111" textLength="23.10" lengthAdjust="spacingAndGlyphs" stroke="#111" stroke-width="0.35">IFN&#947;</text>
<text x="16.40" y="403.20" font-family='"Liberation Serif", serif' font-size="12" font-weight="normal" text-anchor="middle" dominant-baseline="central" fill="#111" textLength="28.80" lengthAdjust="spacingAndGlyphs" stroke="#111" stroke-width="0.35">TNF&#945;</text>
<text x="20.60" y="579.10" font-family='"Liberation Serif", serif' font-size="12" font-weight="normal" text-anchor="middle" dominant-baseline="central" fill="#111" textLength="19.60" lengthAdjust="spacingAndGlyphs" stroke="#111" stroke-width="0.35">IL-4</text>
<circle cx="56.60" cy="659.60" r="1.5" fill="#111"/>
<circle cx="55.60" cy="670.70" r="1.5" fill="#111"/>
<circle cx="60.60" cy="670.70" r="1.5" fill="#111"/>
<text x="56.60" y="684.00" font-family='"Liberation Serif", serif' font-size="10" font-weight="normal" text-anchor="middle" dominant-baseline="central" fill="#111" stroke="#111" stroke-width="0.3">x</text>
<text x="69.50" y="661.90" font-family='"Liberation Serif", serif' font-size="10" font-weight="normal" text-anchor="start" dominant-baseline="central" fill="#111" textLength="29.30" lengthAdjust="spacingAndGlyphs" stroke="#111" stroke-width="0.3">p &lt;0.05</text>
<text x="69.50" y="672.60" font-family='"Liberation Serif", serif' font-size="10" font-weight="normal" text-anchor="start" dominant-baseline="central" fill="#111" textLength="31.00" lengthAdjust="spacingAndGlyphs" stroke="#111" stroke-width="0.3">p &lt; 0.01</text>
<text x="69.50" y="683.80" font-family='"Liberation Serif", serif' font-size="10" font-weight="normal" text-anchor="start" dominant-baseline="central" fill="#111" textLength="31.70" lengthAdjust="spacingAndGlyphs" stroke="#111" stroke-width="0.3">p &gt; 0.05</text>
</svg>
</body></html>
